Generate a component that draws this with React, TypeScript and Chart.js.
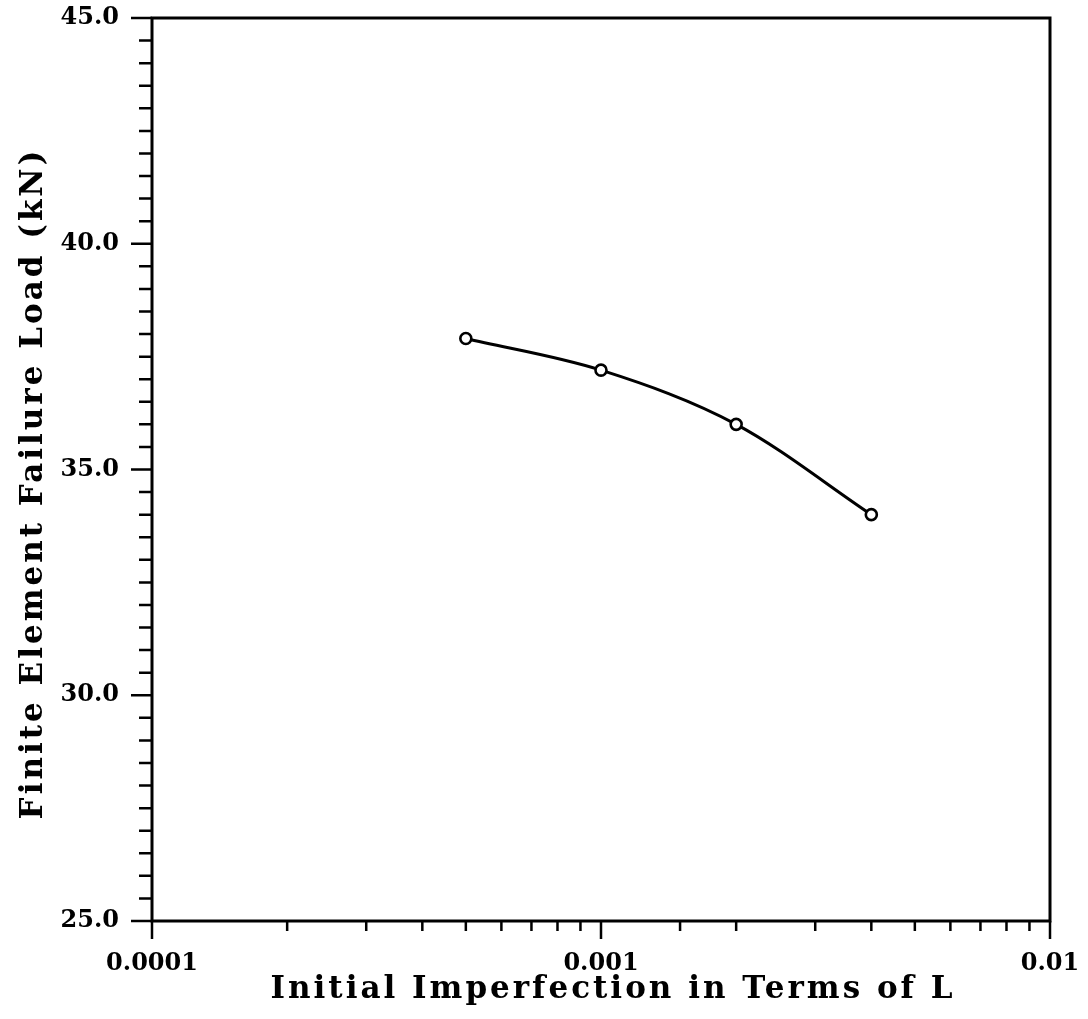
import React, { useEffect, useRef } from "react";
import { Chart, registerables } from "chart.js";

Chart.register(...registerables);

// Imperfection amplitude (fraction of member length L) and FE failure load (kN)
const imperfections = [0.0005, 0.001, 0.002, 0.004];
const failureLoads = [37.9, 37.2, 36.0, 34.0];

// Labelled decades on the log axis and labelled load values
const xMajorTicks = [0.0001, 0.001, 0.01];
const xTickLabels = ["0.0001", "0.001", "0.01"];
const yMajorTicks = [25, 30, 35, 40, 45];
const yTickLabels = ["25.0", "30.0", "35.0", "40.0", "45.0"];

const xTitle = "Initial Imperfection in Terms of L";
const yTitle = "Finite Element Failure Load (kN)";

const FONT = "'DejaVu Serif', serif";

const isMajor = (list: number[], v: number) =>
  list.some((m) => Math.abs(v - m) / m < 1e-6);

// Frame around the plot, outward tick marks on the left and bottom axes,
// and the two widely spaced axis titles
const frameAndTicks = {
  id: "frameAndTicks",
  afterDraw(chart: any) {
    const { ctx, chartArea: a, scales } = chart;
    const xs = scales.x;
    const ys = scales.y;
    ctx.save();
    ctx.strokeStyle = "#000";
    ctx.lineCap = "butt";
    ctx.lineWidth = 3;
    ctx.strokeRect(a.left, a.top, a.right - a.left, a.bottom - a.top);
    ctx.lineWidth = 2.5;
    ctx.beginPath();
    for (const t of ys.ticks) {
      const py = ys.getPixelForValue(t.value);
      const len = isMajor(yMajorTicks, t.value) ? 21 : 13;
      ctx.moveTo(a.left - len, py);
      ctx.lineTo(a.left, py);
    }
    for (const t of xs.ticks) {
      const px = xs.getPixelForValue(t.value);
      const len = isMajor(xMajorTicks, t.value) ? 18 : 10;
      ctx.moveTo(px, a.bottom);
      ctx.lineTo(px, a.bottom + len);
    }
    ctx.stroke();

    ctx.fillStyle = "#000";
    ctx.font = `bold 31px ${FONT}`;
    (ctx as any).letterSpacing = "3px";
    ctx.textAlign = "center";
    ctx.textBaseline = "middle";
    ctx.fillText(xTitle, (a.left + a.right) / 2 + 12, 990);
    ctx.translate(34, (a.top + a.bottom) / 2 + 14);
    ctx.rotate(-Math.PI / 2);
    ctx.fillText(yTitle, 0, 0);
    ctx.restore();
  },
};

export default function App() {
  const canvasRef = useRef<HTMLCanvasElement | null>(null);

  useEffect(() => {
    if (!canvasRef.current) return;
    const points = imperfections.map((x, i) => ({ x, y: failureLoads[i] }));
    const chart = new Chart(canvasRef.current, {
      type: "line",
      data: {
        datasets: [
          {
            data: points,
            borderColor: "#000",
            borderWidth: 3,
            cubicInterpolationMode: "monotone",
            pointRadius: 5.5,
            pointBorderWidth: 2.6,
            pointBorderColor: "#000",
            pointBackgroundColor: "#fff",
            pointHoverRadius: 5.5,
          },
        ],
      },
      options: {
        animation: false,
        responsive: false,
        events: [],
        layout: { padding: { top: 18, right: 38, left: 0, bottom: 0 } },
        plugins: {
          legend: { display: false },
          tooltip: { enabled: false },
        },
        scales: {
          x: {
            type: "logarithmic",
            min: 0.0001,
            max: 0.01,
            border: { display: false },
            grid: { display: false, drawTicks: false },
            ticks: {
              autoSkip: false,
              maxRotation: 0,
              padding: 28,
              color: "#000",
              font: { family: FONT, size: 24, weight: "bold" },
              callback: (v: any) => {
                const i = xMajorTicks.findIndex((m) => Math.abs(Number(v) - m) / m < 1e-6);
                return i >= 0 ? xTickLabels[i] : "";
              },
            },
            afterFit: (scale: any) => {
              scale.height = 98;
              scale.paddingLeft = 0;
              scale.paddingRight = 0;
            },
          },
          y: {
            type: "linear",
            min: 25,
            max: 45,
            border: { display: false },
            grid: { display: false, drawTicks: false },
            ticks: {
              stepSize: 0.5,
              autoSkip: false,
              padding: 33,
              color: "#000",
              font: { family: FONT, size: 24, weight: "bold" },
              callback: (v: any) => {
                const i = yMajorTicks.findIndex((m) => Math.abs(Number(v) - m) < 1e-6);
                return i >= 0 ? yTickLabels[i] : "";
              },
            },
            afterFit: (scale: any) => {
              scale.width = 152;
              scale.paddingTop = 0;
              scale.paddingBottom = 0;
            },
          },
        },
      },
      plugins: [frameAndTicks],
    });
    return () => chart.destroy();
  }, []);

  return (
    <div style={{ position: "fixed", left: 0, top: 0, width: 1088, height: 1019, background: "#fff" }}>
      <canvas ref={canvasRef} width={1088} height={1019} style={{ display: "block" }} />
    </div>
  );
}
